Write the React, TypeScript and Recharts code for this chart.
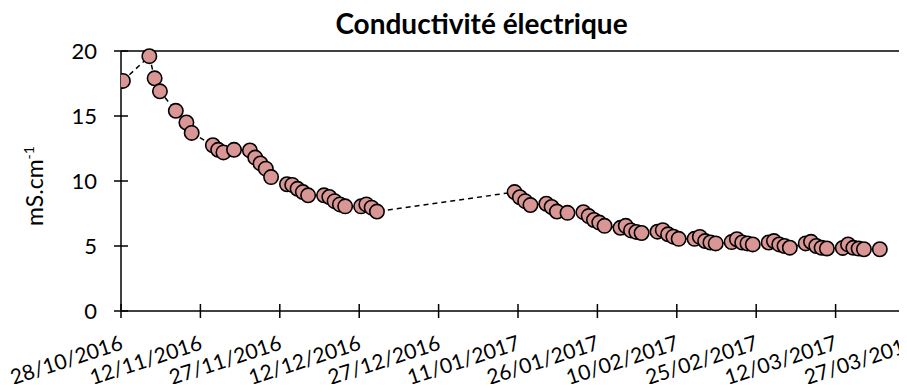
import React from "react";
import { ComposedChart, Line, XAxis, YAxis, ReferenceLine } from "recharts";

const title = "Conductivité électrique";
const yLabelMain = "mS.cm";
const yLabelSup = "-1";

// measurement dates (dd/mm/yyyy)
const dates = [
  "28/10/2016", "02/11/2016", "03/11/2016", "04/11/2016",
  "07/11/2016", "09/11/2016", "10/11/2016",
  "14/11/2016", "15/11/2016", "16/11/2016", "18/11/2016",
  "21/11/2016", "22/11/2016", "23/11/2016", "24/11/2016", "25/11/2016",
  "28/11/2016", "29/11/2016", "30/11/2016", "01/12/2016", "02/12/2016",
  "05/12/2016", "06/12/2016", "07/12/2016", "08/12/2016", "09/12/2016",
  "12/12/2016", "13/12/2016", "14/12/2016", "15/12/2016",
  "10/01/2017", "11/01/2017", "12/01/2017", "13/01/2017",
  "16/01/2017", "17/01/2017", "18/01/2017", "20/01/2017",
  "23/01/2017", "24/01/2017", "25/01/2017", "26/01/2017", "27/01/2017",
  "30/01/2017", "31/01/2017", "01/02/2017", "02/02/2017", "03/02/2017",
  "06/02/2017", "07/02/2017", "08/02/2017", "09/02/2017", "10/02/2017",
  "13/02/2017", "14/02/2017", "15/02/2017", "16/02/2017", "17/02/2017",
  "20/02/2017", "21/02/2017", "22/02/2017", "23/02/2017", "24/02/2017",
  "27/02/2017", "28/02/2017", "01/03/2017", "02/03/2017", "03/03/2017",
  "06/03/2017", "07/03/2017", "08/03/2017", "09/03/2017", "10/03/2017",
  "13/03/2017", "14/03/2017", "15/03/2017", "16/03/2017", "17/03/2017",
  "20/03/2017",
];

// conductivity, mS/cm
const conductivity = [
  17.7, 19.6, 17.9, 16.9,
  15.4, 14.5, 13.7,
  12.75, 12.4, 12.2, 12.4,
  12.35, 11.8, 11.35, 10.95, 10.3,
  9.75, 9.7, 9.4, 9.15, 8.9,
  8.9, 8.77, 8.45, 8.2, 8.05,
  8.05, 8.2, 7.95, 7.65,
  9.15, 8.75, 8.45, 8.15,
  8.25, 8.0, 7.65, 7.55,
  7.6, 7.3, 7.0, 6.8, 6.55,
  6.4, 6.55, 6.2, 6.08, 6.0,
  6.1, 6.22, 5.9, 5.72, 5.55,
  5.55, 5.7, 5.38, 5.27, 5.2,
  5.3, 5.52, 5.27, 5.2, 5.12,
  5.27, 5.38, 5.12, 5.0, 4.87,
  5.2, 5.32, 5.0, 4.86, 4.81,
  4.85, 5.12, 4.86, 4.8, 4.75,
  4.75,
];

const measureHour = 8.5; // approx. time of day of the readings

const xTickLabels = [
  "28/10/2016", "12/11/2016", "27/11/2016", "12/12/2016", "27/12/2016",
  "11/01/2017", "26/01/2017", "10/02/2017", "25/02/2017", "12/03/2017",
  "27/03/2017",
];
const yTicks = [0, 5, 10, 15, 20];

const toUTC = (s: string) => {
  const [d, m, y] = s.split("/").map(Number);
  return Date.UTC(y, m - 1, d);
};
const origin = toUTC(xTickLabels[0]);
const dayOf = (s: string) => (toUTC(s) - origin) / 86400000;

const xTicks = xTickLabels.map(dayOf);
const labelByDay: Record<number, string> = {};
xTickLabels.forEach((l, i) => (labelByDay[xTicks[i]] = l));

const data = dates.map((d, i) => ({
  day: dayOf(d) + measureHour / 24,
  value: conductivity[i],
}));

const FONT = "Lato, 'Open Sans', sans-serif";

const YTick = (props: any) => {
  const { x, y, payload } = props;
  return (
    <g>
      <line x1={x - 7} x2={x + 7} y1={y} y2={y} stroke="#000" strokeWidth={1.5} />
      <text x={x - 24} y={y} dy={7.5} textAnchor="end" fontSize={22} fontFamily={FONT} fill="#000">
        {payload.value}
      </text>
    </g>
  );
};

const XTick = (props: any) => {
  const { x, y, payload } = props;
  const tx = x + 3;
  const ty = y + 38;
  return (
    <g>
      <line x1={x} x2={x} y1={y - 7} y2={y + 7} stroke="#000" strokeWidth={1.5} />
      <text
        x={tx}
        y={ty}
        textAnchor="end"
        fontSize={21}
        fontFamily={FONT}
        fill="#000"
        transform={`rotate(-18, ${tx}, ${ty})`}
      >
        {labelByDay[payload.value] ?? ""}
      </text>
    </g>
  );
};

const YLabel = (props: any) => {
  const { viewBox } = props;
  const cx = 43;
  const cy = viewBox.y + viewBox.height / 2 + 5;
  return (
    <text
      x={cx}
      y={cy}
      transform={`rotate(-90, ${cx}, ${cy})`}
      textAnchor="middle"
      fontSize={23}
      fontFamily={FONT}
      fill="#000"
    >
      {yLabelMain}
      <tspan fontSize={14} dy={-9}>{yLabelSup}</tspan>
    </text>
  );
};

const Dot = (props: any) => {
  const { cx, cy } = props;
  if (cx == null || cy == null) return null;
  return <circle cx={cx} cy={cy} r={7.2} fill="#D99694" stroke="#000" strokeWidth={1.6} />;
};

export default function App() {
  return (
    <div style={{ margin: "-8px", width: 907, height: 392, overflow: "hidden", position: "relative", background: "#fff" }}>
      <div
        style={{
          position: "absolute",
          left: 0,
          width: 907,
          top: 6,
          textAlign: "center",
          fontFamily: FONT,
          fontWeight: 700,
          fontSize: 28,
          color: "#000",
          paddingLeft: 56,
          boxSizing: "border-box",
        }}
      >
        {title}
      </div>
      <ComposedChart
        width={920}
        height={392}
        data={data}
        margin={{ top: 51, right: 5, bottom: 11, left: 61 }}
      >
        <ReferenceLine y={20} stroke="#000" strokeWidth={1.5} ifOverflow="visible" />
        <ReferenceLine x={150} stroke="#000" strokeWidth={1.5} ifOverflow="visible" />
        <XAxis
          type="number"
          dataKey="day"
          domain={[0, 150]}
          ticks={xTicks}
          interval={0}
          tickSize={0}
          tickMargin={0}
          tickLine={false}
          axisLine={{ stroke: "#000", strokeWidth: 1.5 }}
          tick={<XTick />}
          height={70}
          allowDataOverflow
        />
        <YAxis
          type="number"
          domain={[0, 20]}
          ticks={yTicks}
          interval={0}
          tickSize={0}
          tickMargin={0}
          tickLine={false}
          axisLine={{ stroke: "#000", strokeWidth: 1.5 }}
          tick={<YTick />}
          width={60}
          label={<YLabel />}
        />
        <Line
          type="linear"
          dataKey="value"
          stroke="#000"
          strokeWidth={1.5}
          strokeDasharray="5 4"
          dot={<Dot />}
          activeDot={false}
          isAnimationActive={false}
        />
      </ComposedChart>
    </div>
  );
}
